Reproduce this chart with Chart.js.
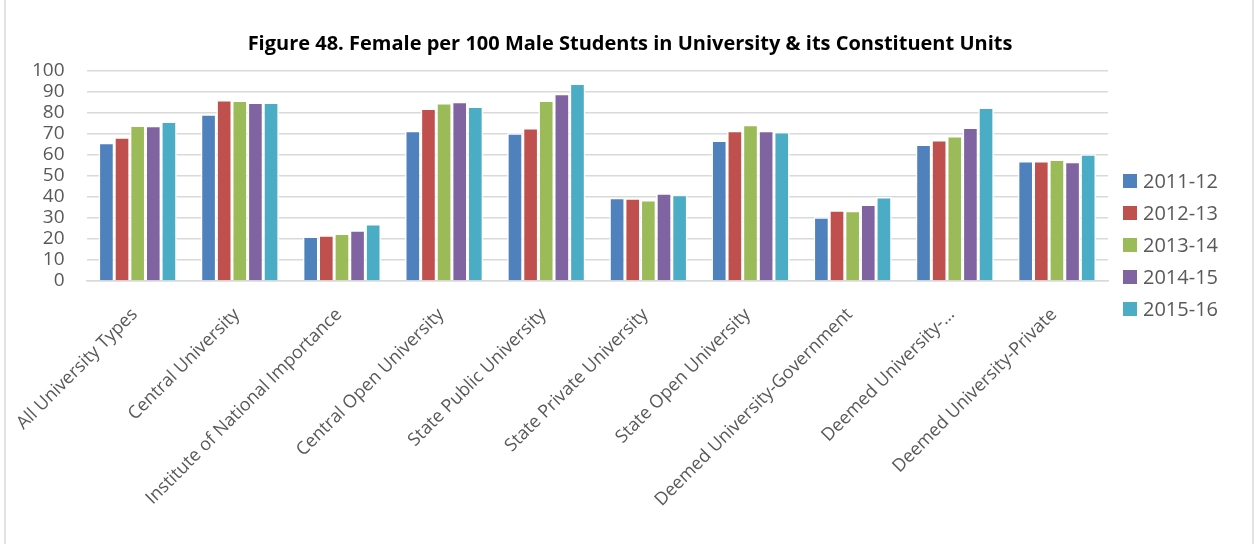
<!DOCTYPE html>
<html>
<head>
<meta charset="utf-8">
<script src="https://cdn.jsdelivr.net/npm/chart.js@4.4.0/dist/chart.umd.min.js"></script>
<style>
  html, body { margin: 0; padding: 0; background: #fff; }
  #wrap { width: 1256px; height: 544px; }
</style>
</head>
<body>
<div id="wrap"><canvas id="ratioChart" width="1256" height="544"></canvas></div>
<script>
// categories and series
const categories = [
    'All University Types', 'Central University', 'Institute of National Importance',
    'Central Open University', 'State Public University', 'State Private University',
    'State Open University', 'Deemed University-Government', 'Deemed University-...',
    'Deemed University-Private'
];
const years = ['2011-12', '2012-13', '2013-14', '2014-15', '2015-16'];
const v2011 = [65.8, 79.4, 21.2, 71.5, 70.4, 39.7, 66.9, 30.4, 65.0, 57.1];
const v2012 = [68.4, 86.2, 21.8, 82.1, 72.8, 39.4, 71.5, 33.7, 67.1, 57.1];
const v2013 = [74.1, 85.9, 22.6, 84.8, 85.9, 38.6, 74.4, 33.4, 69.1, 57.9];
const v2014 = [73.9, 85.0, 24.2, 85.4, 89.2, 41.8, 71.5, 36.4, 73.1, 56.8];
const v2015 = [75.9, 85.0, 27.2, 83.1, 94.1, 41.1, 71.0, 40.0, 82.6, 60.4];
const yMin = 0, yMax = 100, yStep = 10;
const titleText = 'Figure 48. Female per 100 Male Students in University & its Constituent Units';

const colors = ['#4F81BD', '#C0504D', '#9BBB59', '#8064A2', '#4BACC6'];
const allValues = [v2011, v2012, v2013, v2014, v2015];
const textGray = '#595959';
const font = "'Open Sans', 'Liberation Sans', sans-serif";

// frame, title and right-hand legend, placed like the Excel original
const frameAndLegend = {
    id: 'frameAndLegend',
    beforeDraw(chart) {
        const c = chart.ctx;
        c.save();
        c.fillStyle = '#fff';
        c.fillRect(0, 0, chart.width, chart.height);
        c.strokeStyle = '#d9d9d9';
        c.lineWidth = 1.5;
        c.strokeRect(5, -5, chart.width - 8, chart.height + 10);
        c.restore();
    },
    afterDraw(chart) {
        const c = chart.ctx;
        c.save();
        c.fillStyle = '#000';
        c.font = 'bold 20px ' + font;
        c.textAlign = 'center';
        c.textBaseline = 'alphabetic';
        c.fillText(titleText, 630, 50);

        c.font = '20px ' + font;
        c.textAlign = 'left';
        c.textBaseline = 'middle';
        chart.data.datasets.forEach((ds, i) => {
            const y = 181 + i * 32;
            c.fillStyle = ds.backgroundColor;
            c.fillRect(1123, y - 7, 14, 14);
            c.fillStyle = textGray;
            c.fillText(ds.label, 1143, y + 1);
        });
        c.restore();
    }
};

let ctx = document.getElementById('ratioChart').getContext('2d');
let ratioChart = new Chart(ctx, {
    type: 'bar',
    data: {
        labels: categories,
        datasets: years.map((y, i) => ({
            label: y,
            data: allValues[i],
            backgroundColor: colors[i],
            borderColor: '#fff',
            borderWidth: 1.5,
            categoryPercentage: 0.765,
            barPercentage: 1
        }))
    },
    options: {
        responsive: false,
        animation: false,
        layout: { padding: { left: 10, right: 148, top: 71, bottom: 0 } },
        plugins: {
            legend: { display: false },
            tooltip: { enabled: false },
            title: { display: false }
        },
        scales: {
            y: {
                min: yMin,
                max: yMax,
                ticks: { stepSize: yStep, autoSkip: false, color: textGray, font: { family: font, size: 19 }, padding: 22 },
                grid: { color: '#d9d9d9', lineWidth: 1.5, drawTicks: false },
                border: { display: false }
            },
            x: {
                ticks: {
                    color: textGray, font: { family: font, size: 18 },
                    minRotation: 45, maxRotation: 45, autoSkip: false,
                    padding: 23, labelOffset: -3
                },
                grid: { display: false, drawTicks: false },
                border: { color: '#d9d9d9', width: 1.5 },
                // fixed label band under the plot; long rotated labels may hang left like the original
                afterFit(scale) { scale.paddingLeft = 0; scale.paddingRight = 0; scale.height = 263; }
            }
        }
    },
    plugins: [frameAndLegend]
});
</script>
</body>
</html>
